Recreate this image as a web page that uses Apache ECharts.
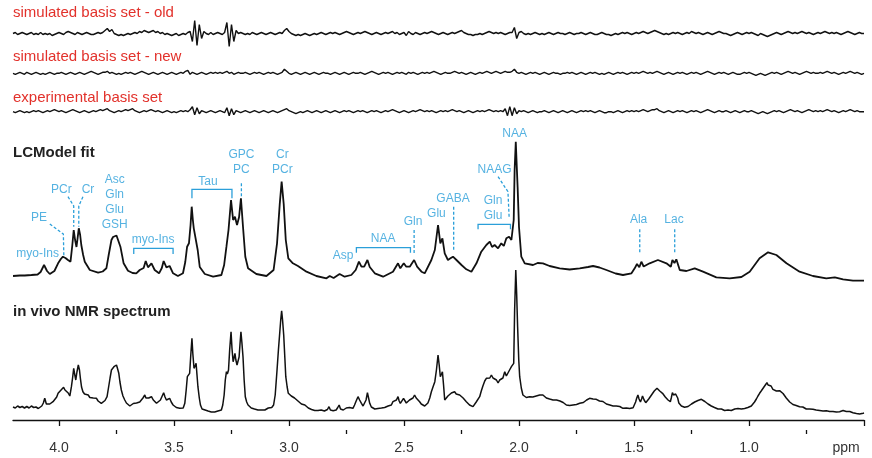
<!DOCTYPE html>
<html><head><meta charset="utf-8">
<script src="https://cdn.jsdelivr.net/npm/echarts@6/dist/echarts.min.js"></script>
<style>html,body{margin:0;padding:0;background:#fff}#c{width:872px;height:458px}</style>
</head><body><div id="c"></div><script>
// ---------- data ----------
const majorTicks = [0.5, 1.0, 1.5, 2.0, 2.5, 3.0, 3.5, 4.0];
const minorTicks = [0.75, 1.25, 1.75, 2.25, 2.75, 3.25, 3.75];
const tickLabels = ['ppm', '1.0', '1.5', '2.0', '2.5', '3.0', '3.5', '4.0'];
const residNames = ['simulated basis set - old', 'simulated basis set - new', 'experimental basis set'];
const spectrumNames = ['LCModel fit', 'in vivo NMR spectrum'];

// residual traces sampled every 0.01 ppm from 4.20 ppm down to 0.50 ppm
const residStart = 4.20, residStep = 0.01;
const residOld = [
 0,1,-1,0,1,0,-1,0,1,-1,  0,-1,1,-1,0,-1,0,-2,-1,0,  1,0,-1,1,2,1,0,-1,1,0,  -1,0,1,0,-1,-1,0,1,0,1,
 3,5,2,4,0,-1,-2,-1,-2,-1,  0,-1,0,1,0,2,1,3,2,1,  2,3,1,2,0,1,-1,0,-1,-2,  -1,0,-2,-1,0,-1,1,2,-8,13,
 -12,9,-5,2,0,-1,1,-1,0,1,  0,-1,1,11,-13,9,-8,3,0,1,  0,-1,0,-1,1,0,-1,0,1,0,  -1,0,1,0,-1,0,1,0,3,5,
 2,0,-1,-2,-1,-2,-1,0,-1,-2,  -1,0,-1,0,1,0,-1,0,1,0,  1,0,-1,0,1,2,1,0,-1,0,  1,0,1,2,1,0,-1,0,1,0,
 -1,0,1,0,1,2,0,1,-1,0,  1,-2,2,0,-1,1,0,-1,0,1,  0,1,2,1,0,-1,0,1,0,-1,  0,1,0,1,2,3,1,0,-1,-1,
 -2,-1,-1,0,-1,0,1,2,1,0,  1,0,1,0,-1,0,1,1,6,-5,  1,2,0,-1,0,-1,0,1,0,-1,  0,-1,0,1,0,-1,0,1,0,0,
 -1,0,1,0,-1,0,0,1,0,-1,  0,1,0,-1,-1,0,1,0,-1,-1,  -2,-1,0,-1,0,1,0,1,0,-1,  0,1,0,1,2,1,0,1,2,3,
 2,1,0,-1,0,-1,0,1,0,1,  0,-1,0,1,0,2,1,0,1,0,  -1,0,1,0,-1,0,1,2,1,0,  0,-1,-2,-1,0,1,0,-1,0,1,
 0,1,0,-1,-2,0,-1,-2,-3,-2,  -1,0,1,0,-1,0,1,2,1,0,  1,0,1,2,1,0,1,0,-1,0,  1,0,1,2,1,0,1,0,1,0,
 -1,0,1,2,1,0,-1,0,1,0,  0
];
const residNew = [
 0,-1,0,1,0,-1,1,0,-1,0,  1,0,-1,0,-1,0,1,0,-1,0,  0,1,0,-1,0,1,0,-1,0,1,  0,-1,0,1,2,1,0,-1,0,1,
 1,2,0,1,0,-1,0,-1,0,1,  0,1,0,-1,0,1,2,1,0,-1,  0,1,0,-1,0,1,0,-1,0,1,  0,-1,0,1,0,2,3,-1,1,0,
 -1,0,1,0,-1,0,1,0,1,0,  1,0,1,2,0,1,-1,0,1,0,  0,1,0,-1,0,1,0,1,0,-1,  0,1,0,1,0,-1,0,1,4,2,
 0,-1,0,1,0,-1,0,1,0,-1,  0,1,0,-1,0,1,0,0,-1,0,  1,0,-1,0,1,0,-1,0,1,0,  0,1,0,-1,0,1,2,1,0,-1,
 0,1,0,1,0,-1,0,1,0,1,  0,-1,1,0,1,0,-1,0,1,0,  1,0,1,2,1,0,-1,0,1,0,  0,1,2,1,0,1,0,-1,0,1,
 0,-1,0,1,0,1,2,1,0,1,  2,1,0,1,2,1,1,2,4,1,  0,1,0,-1,0,1,0,1,0,-1,  0,1,0,-1,0,1,0,0,-1,0,
 0,1,0,1,0,-1,0,1,0,-1,  0,1,0,1,0,-1,0,-1,0,1,  0,-1,0,1,0,1,0,-1,0,1,  0,1,0,1,2,1,0,1,0,1,
 2,1,0,-1,0,1,0,-1,0,1,  0,1,0,-1,0,1,0,1,0,-1,  0,1,2,1,0,-1,0,1,0,1,  0,-1,0,1,0,-1,-1,0,1,0,
 1,0,-1,-2,-1,0,-1,-2,-1,0,  1,0,1,0,-1,0,1,2,1,0,  1,0,-1,0,1,2,1,0,1,0,  0,1,0,1,2,1,0,1,0,-1,
 0,1,0,1,2,1,0,1,0,-1,  0
];
const residExp = [
 0,-1,0,1,0,-1,0,-1,0,1,  0,1,0,-1,0,1,0,1,2,1,  0,1,0,-1,0,1,2,1,0,-1,  0,1,0,-1,0,1,0,1,2,1,
 2,3,1,0,-1,0,1,0,1,2,  1,2,3,1,0,-1,0,1,0,1,  2,1,0,1,0,-1,0,1,0,-1,  0,-1,0,1,0,1,0,2,5,-3,
 4,-2,1,0,-1,0,1,0,-1,0,  1,0,-1,4,-4,3,-3,1,0,-1,  0,1,0,-1,0,1,0,-1,0,1,  0,-1,0,1,0,-1,0,1,2,3,
 1,0,-1,-2,-1,0,-1,0,1,0,  -1,0,1,0,-1,0,1,0,-1,0,  1,0,-1,0,1,0,1,0,-1,0,  1,0,1,0,-1,0,1,0,1,0,
 -1,0,1,0,1,2,1,0,-1,0,  1,0,-1,0,1,0,1,2,1,0,  1,0,1,0,-1,0,1,0,1,0,  1,2,1,0,1,0,-1,0,1,0,
 -1,0,1,0,1,0,1,2,1,0,  1,0,1,0,3,-4,5,-4,4,-2,  1,0,1,0,-1,0,1,0,-1,0,  0,1,0,-1,0,1,0,-1,0,1,
 0,-1,0,1,0,-1,0,1,0,1,  0,1,0,-1,0,1,0,-1,-1,0,  0,-1,0,1,0,-1,0,1,0,1,  0,1,0,1,2,1,0,1,2,2,
 3,1,0,-1,0,1,0,-1,0,1,  0,1,0,-1,0,1,0,1,0,-1,  0,1,2,1,0,-1,0,1,0,0,  1,0,-1,0,1,0,-1,0,1,0,
 0,1,0,-1,-2,-1,0,-1,-2,-1,  0,1,0,1,0,-1,0,1,2,1,  0,1,0,-1,0,1,2,1,0,1,  0,1,0,1,2,1,0,1,0,-1,
 0,1,0,1,2,1,0,1,0,0,  0
];

// LCModel fit: [ppm, intensity]
const fitSpectrum = [
 [4.20,14],[4.17,14.5],[4.149,14.5],[4.12,15],[4.093,15.5],[4.08,18],[4.065,25],[4.052,19],[4.04,16],[4.02,19],
 [4.004,26.7],[3.992,31],[3.983,33.3],[3.972,32],[3.961,30],[3.950,28.3],[3.942,45],[3.936,60],[3.930,50],[3.924,43],
 [3.919,52],[3.914,61.7],[3.908,55],[3.903,45],[3.895,35],[3.888,28.3],[3.866,20],[3.83,17.3],[3.81,18.5],[3.794,21.7],
 [3.784,35],[3.772,50],[3.765,53],[3.758,55],[3.750,54.5],[3.743,53.3],[3.733,43.3],[3.719,26.7],[3.700,19.3],[3.680,17],
 [3.664,16.7],[3.649,20],[3.632,22],[3.623,29],[3.613,22.7],[3.598,26.7],[3.584,20],[3.565,16.7],[3.553,22],[3.545,29],
 [3.533,22.7],[3.519,24],[3.504,16.7],[3.483,14],[3.461,16.7],[3.451,28],[3.443,43.3],[3.435,46.7],[3.428,65],[3.423,83.3],
 [3.418,70],[3.414,61.7],[3.406,60],[3.397,40],[3.388,23],[3.366,16],[3.330,13.3],[3.294,15],[3.282,25],[3.272,43.3],
 [3.263,60],[3.252,90],[3.243,70],[3.235,73.3],[3.226,65],[3.217,73],[3.209,91.7],[3.200,63.3],[3.190,33.3],[3.178,21.7],
 [3.142,16],[3.098,14],[3.067,20],[3.052,46.7],[3.040,86.7],[3.032,108.3],[3.023,86],[3.014,50],[3.003,31.7],[2.983,26.7],
 [2.961,24],[2.924,18.3],[2.881,14],[2.837,11.7],[2.823,14],[2.806,12],[2.780,16],[2.758,13.3],[2.729,15],[2.710,20],
 [2.696,28.3],[2.685,23.3],[2.673,23.3],[2.659,30],[2.649,23],[2.627,16.7],[2.591,13.3],[2.548,18.3],[2.526,26.7],[2.516,21.7],
 [2.501,26.7],[2.490,23.3],[2.475,23.3],[2.456,30],[2.443,23.3],[2.424,18.3],[2.410,16.7],[2.381,30],[2.366,40],[2.352,65],
 [2.342,46.7],[2.333,51.7],[2.323,36.7],[2.309,30],[2.298,31.7],[2.287,33.3],[2.272,30],[2.250,25],[2.229,20.7],[2.207,18.3],
 [2.185,26.7],[2.164,38.3],[2.142,45],[2.127,48.3],[2.117,43],[2.106,45],[2.091,41.7],[2.077,46.7],[2.066,44],[2.055,51.7],
 [2.043,53.3],[2.033,50],[2.023,70],[2.019,120],[2.014,148.3],[2.010,125],[2.006,103],[2.000,63],[1.990,33.3],[1.975,26.7],
 [1.939,25],[1.919,27],[1.896,26.7],[1.867,24],[1.823,21.7],[1.780,20.5],[1.736,21.7],[1.700,23],[1.678,24],[1.650,22.5],
 [1.620,20],[1.580,16.5],[1.548,15],[1.511,16.7],[1.497,21.7],[1.487,26],[1.477,22.7],[1.468,28.3],[1.458,23.5],[1.432,26.7],
 [1.396,30],[1.359,26.7],[1.340,23.3],[1.333,30],[1.324,27],[1.316,30.7],[1.301,20],[1.272,19],[1.236,21.7],[1.200,18.3],
 [1.142,12.7],[1.084,11.7],[1.033,13],[0.997,18.3],[0.954,31.7],[0.917,37.7],[0.881,35],[0.837,26.7],[0.780,18.3],[0.722,14],
 [0.664,11.7],[0.627,12.7],[0.591,10.7],[0.548,9.3],[0.50,9.3]
];

// in vivo NMR spectrum: [ppm, intensity]
const vivoSpectrum = [
 [4.20,13],[4.19,12],[4.18,14],[4.17,12.5],[4.16,13.5],[4.15,12],[4.14,13.5],[4.13,12],[4.12,14],[4.11,12.5],
 [4.10,13],[4.09,11.5],[4.084,12],[4.075,14],[4.068,17],[4.062,21.7],[4.055,16],[4.048,14],[4.04,16],[4.033,15.5],
 [4.026,18.3],[4.018,20],[4.01,23],[4.004,26.7],[3.995,29],[3.988,31],[3.98,32.7],[3.974,30],[3.968,30.5],[3.96,27],
 [3.953,24],[3.946,33.3],[3.941,42],[3.936,51.7],[3.932,46],[3.927,40],[3.922,48],[3.916,55],[3.911,50],[3.907,41.7],
 [3.902,33],[3.896,28.3],[3.889,26],[3.881,24],[3.873,25],[3.866,22.5],[3.859,23],[3.851,22],[3.844,23],[3.837,21.7],
 [3.83,19],[3.823,18],[3.816,16.7],[3.808,18],[3.8,19.5],[3.791,23.3],[3.785,32],[3.778,42],[3.772,50],[3.766,51],
 [3.761,53.3],[3.755,52],[3.75,55],[3.745,51],[3.74,46.7],[3.735,38],[3.729,30],[3.722,24],[3.714,20],[3.707,17],
 [3.7,16],[3.692,14],[3.685,15],[3.677,16.5],[3.67,15],[3.663,17],[3.656,16.7],[3.649,18],[3.642,20],[3.635,22],
 [3.627,25],[3.622,22],[3.617,20],[3.61,22],[3.604,21],[3.598,23.3],[3.59,20],[3.583,18],[3.576,16.7],[3.568,17.5],
 [3.559,20],[3.552,22],[3.545,27.3],[3.539,23],[3.533,20],[3.526,22],[3.519,21.7],[3.512,18],[3.504,15],[3.496,13],
 [3.49,12.5],[3.483,12],[3.475,11.7],[3.468,13],[3.46,12],[3.453,16.7],[3.447,30],[3.442,43.3],[3.437,44],[3.432,46.7],
 [3.427,65],[3.422,81.7],[3.418,66],[3.413,51.7],[3.408,54],[3.404,56.7],[3.4,45],[3.396,33.3],[3.39,22],[3.385,15],
 [3.378,11],[3.37,9.5],[3.365,10],[3.359,8.3],[3.352,9],[3.345,7.5],[3.338,8],[3.33,6.7],[3.323,8],[3.316,7],
 [3.309,9],[3.302,8.5],[3.294,10],[3.288,15],[3.282,25],[3.277,40],[3.272,48.3],[3.268,46],[3.263,50],[3.258,70],
 [3.252,88.3],[3.248,72],[3.243,58.3],[3.239,62],[3.235,66.7],[3.231,60],[3.226,55],[3.222,57],[3.217,63],[3.213,76],
 [3.209,88.3],[3.205,78],[3.2,63.3],[3.195,40],[3.19,23.3],[3.184,18],[3.178,15],[3.171,13],[3.164,12],[3.157,13],
 [3.15,11],[3.142,11.7],[3.135,10],[3.127,12],[3.12,10],[3.113,11.5],[3.105,10],[3.098,10.7],[3.09,12],[3.082,11],
 [3.075,12.5],[3.067,15],[3.06,25],[3.052,50],[3.046,70],[3.04,88],[3.036,100],[3.032,109.3],[3.028,100],[3.023,85],
 [3.018,62],[3.014,43.3],[3.008,33],[3.003,26.7],[2.996,25],[2.99,24],[2.983,23.3],[2.976,22],[2.968,20],[2.961,19],
 [2.953,17],[2.946,16],[2.938,14.5],[2.931,15],[2.924,14],[2.916,12],[2.909,12.5],[2.902,10.5],[2.895,11],[2.888,9.5],
 [2.881,8.3],[2.874,9.5],[2.867,8.5],[2.86,10],[2.853,10],[2.846,9],[2.839,11],[2.833,10.5],[2.826,13.3],[2.82,10],
 [2.814,11],[2.808,9.3],[2.801,11],[2.795,10],[2.788,12.5],[2.782,15],[2.776,11],[2.77,11.5],[2.764,10],[2.758,10],
 [2.751,12],[2.744,11],[2.737,12.5],[2.73,11],[2.722,11.7],[2.715,15],[2.708,19],[2.7,23.3],[2.693,20],[2.685,16.7],
 [2.678,14],[2.671,13.3],[2.665,20],[2.659,27.3],[2.654,22],[2.649,16.7],[2.642,13],[2.635,12],[2.627,11],[2.62,10.7],
 [2.613,11.5],[2.606,10],[2.598,12],[2.591,11],[2.584,12.5],[2.577,13.3],[2.569,14],[2.562,15.5],[2.555,15],[2.548,18.3],
 [2.54,17],[2.533,20],[2.526,23.3],[2.521,19],[2.516,16.7],[2.508,18],[2.502,21.7],[2.497,21.7],[2.49,17],[2.483,18.3],
 [2.476,20],[2.469,19],[2.461,22],[2.454,25],[2.447,22],[2.44,20],[2.432,18.3],[2.425,16],[2.418,15],[2.41,14],
 [2.403,13.3],[2.396,17],[2.388,22],[2.381,28.3],[2.374,33],[2.366,38.3],[2.359,50],[2.352,65],[2.347,55],[2.342,43.3],
 [2.337,46],[2.333,48.3],[2.328,35],[2.323,20],[2.316,22],[2.309,24],[2.301,25],[2.294,27],[2.287,26],[2.28,28.3],
 [2.273,26],[2.265,27],[2.258,25],[2.25,23],[2.243,22],[2.236,20],[2.229,18.3],[2.222,17],[2.215,15],[2.207,14.5],
 [2.2,13.3],[2.193,15],[2.186,18],[2.178,20],[2.171,23.3],[2.164,29],[2.157,34],[2.149,39],[2.142,41.7],[2.135,43],
 [2.127,42],[2.12,45],[2.113,42],[2.105,40.5],[2.098,40],[2.091,37],[2.084,40],[2.077,38],[2.07,42],[2.062,48.3],
 [2.055,44],[2.048,45],[2.041,50],[2.033,53.3],[2.028,52],[2.023,56.7],[2.019,110],[2.014,150],[2.01,125],[2.006,93.3],
 [2.001,60],[1.997,43.3],[1.99,32],[1.983,25],[1.976,24],[1.968,22.5],[1.961,24],[1.954,23.3],[1.947,22],[1.94,23],
 [1.932,22],[1.925,24],[1.918,23],[1.91,25],[1.903,24],[1.896,25],[1.889,23],[1.881,22],[1.874,23.5],[1.867,21],
 [1.86,22],[1.852,20],[1.845,21],[1.837,20],[1.83,18.5],[1.822,19],[1.815,17],[1.808,17.5],[1.801,16],[1.794,15],
 [1.787,16],[1.78,14.5],[1.772,16],[1.765,15],[1.758,16.5],[1.75,15.5],[1.743,17],[1.736,16.7],[1.728,18],[1.72,17.5],
 [1.713,19],[1.706,20],[1.7,21],[1.693,21.7],[1.686,22.5],[1.678,21],[1.671,22],[1.664,20.7],[1.657,20],[1.65,19],
 [1.642,18],[1.635,18.5],[1.627,17],[1.62,16],[1.612,17],[1.605,15],[1.598,15.5],[1.591,14],[1.584,14.5],[1.577,14],
 [1.57,13],[1.562,13.5],[1.555,12],[1.548,11.7],[1.54,12.5],[1.533,12],[1.526,13],[1.519,11.5],[1.511,12],[1.504,12.3],
 [1.499,14],[1.493,18],[1.488,22],[1.483,25],[1.478,21],[1.472,18],[1.467,21],[1.463,24],[1.456,20],[1.449,17.3],
 [1.442,19],[1.436,21],[1.43,23],[1.424,25],[1.418,27],[1.412,29],[1.406,30],[1.4,31.7],[1.394,30],[1.388,29],
 [1.382,27.5],[1.376,26.7],[1.37,25],[1.364,23],[1.358,21.5],[1.352,20],[1.347,19],[1.342,18.3],[1.338,22],[1.333,27.3],
 [1.328,25],[1.323,24],[1.319,26],[1.316,27.3],[1.31,22],[1.305,17],[1.301,15],[1.294,14],[1.287,13],[1.28,12.7],
 [1.272,14],[1.265,13.5],[1.258,15],[1.25,16],[1.243,17],[1.236,18],[1.229,19],[1.222,19.5],[1.214,20],[1.207,20.7],
 [1.2,19.5],[1.192,18.5],[1.185,17.3],[1.178,16],[1.171,15.5],[1.164,14],[1.157,13.3],[1.15,12.5],[1.142,11.5],[1.135,11],
 [1.128,10.5],[1.12,11],[1.113,10],[1.106,9.5],[1.099,11],[1.091,10],[1.084,10.5],[1.077,9.5],[1.07,10],[1.062,11],
 [1.055,10],[1.048,11.5],[1.04,10],[1.033,11],[1.026,10.7],[1.019,11.5],[1.012,12],[1.005,12.5],[0.997,13],[0.99,14],
 [0.983,16],[0.976,18],[0.968,21],[0.961,24],[0.954,26.7],[0.947,29],[0.94,31],[0.932,34],[0.926,36],[0.922,37.3],
 [0.917,35],[0.911,33],[0.904,34],[0.896,30.7],[0.889,31],[0.881,29],[0.874,30],[0.867,29.3],[0.86,28],[0.852,26.5],
 [0.845,25],[0.838,22],[0.831,20],[0.823,18],[0.816,16],[0.809,15.5],[0.802,14],[0.795,14.5],[0.787,13],[0.78,13.3],
 [0.773,12],[0.766,13],[0.758,12],[0.751,11],[0.744,12.5],[0.737,11],[0.729,11.5],[0.722,10.7],[0.715,11.5],[0.708,10],
 [0.7,11],[0.693,9.5],[0.686,10.5],[0.678,9],[0.671,10],[0.664,9.3],[0.657,9.5],[0.649,8.5],[0.642,10],[0.635,8.5],
 [0.628,9],[0.62,8],[0.613,9.5],[0.606,8.3],[0.599,8],[0.591,9.5],[0.584,7.5],[0.577,8.5],[0.57,7],[0.562,8.5],
 [0.555,7],[0.548,7.3],[0.541,8],[0.533,6.5],[0.526,7.5],[0.519,6],[0.512,7.5],[0.504,6.7],[0.50,7]
];

// metabolite annotations on the fit: [ppm, height, text]
const annotations = [
 [4.093, 36.7, 'myo-Ins'], [4.087, 72.7, 'PE'], [3.990, 100.7, 'PCr'], [3.874, 100.7, 'Cr'],
 [3.758, 87.8, 'Asc\nGln\nGlu\nGSH'], [3.591, 50, 'myo-Ins'], [3.352, 108.3, 'Tau'],
 [3.207, 127.5, 'GPC\nPC'], [3.029, 127.5, 'Cr\nPCr'], [2.765, 34, 'Asp'], [2.591, 51, 'NAA'],
 [2.461, 68.3, 'Gln'], [2.359, 76.7, 'Glu'], [2.287, 91.7, 'GABA'], [2.113, 81.7, 'Gln\nGlu'],
 [2.106, 120, 'NAAG'], [2.019, 156, 'NAA'], [1.480, 70, 'Ala'], [1.326, 70, 'Lac']
];
// dashed leader lines: polylines of [ppm, height]
const leaders = [
 [[4.040,66],[3.981,56],[3.979,34]],
 [[3.961,93.3],[3.936,84],[3.936,63.3]],
 [[3.896,93.3],[3.914,84],[3.914,63.3]],
 [[3.207,106.7],[3.207,93.3]],
 [[2.456,60],[2.456,35]],
 [[2.284,83.3],[2.284,39.3]],
 [[2.091,113.3],[2.048,98.3],[2.043,73.3]],
 [[1.475,60.7],[1.475,36.7]],
 [[1.323,60.7],[1.323,36.7]]
];
// brackets: [ppmLeft, ppmRight, topHeight, endHeight]
const brackets = [
 [3.675, 3.504, 41.7, 36],
 [3.422, 3.248, 100.7, 91.7],
 [2.707, 2.472, 42.3, 37.3],
 [2.178, 2.037, 65.7, 60.7]
];

// ---------- chart ----------
const FONT = '"Liberation Sans", Arial, Helvetica, sans-serif';
const BLUE = '#2b9fd9', RED = '#e2312b', INK = '#111111';
const PPM_MIN = 0.5, PPM_MAX = 4.2;

function residPairs(vals) {
  return vals.map((v, i) => [+(residStart - i * residStep).toFixed(2), v]);
}
function labelFor(v) {
  const k = majorTicks.findIndex(t => Math.abs(t - v) < 1e-6);
  if (k < 0) return '';
  return k === 0 ? '{p|' + tickLabels[k] + '}' : tickLabels[k];
}

const grids = [
  {left: 13, right: 8, top: 13.5, height: 40},
  {left: 13, right: 8, top: 53.3, height: 40},
  {left: 13, right: 8, top: 91.7, height: 40},
  {left: 13, right: 8, top: 130, height: 160},
  {left: 13, right: 8, top: 270, height: 160}
];
const yRanges = [[-20, 20], [-20, 20], [-20, 20], [0, 160], [-10, 150]];

const xAxes = grids.map((g, i) => ({
  type: 'value', gridIndex: i, min: PPM_MIN, max: PPM_MAX, inverse: true, show: false
}));
xAxes[4] = {
  type: 'value', gridIndex: 4, position: 'bottom', min: PPM_MIN, max: PPM_MAX, inverse: true, show: true, interval: 0.5,
  axisLine: {show: true, lineStyle: {color: INK, width: 1.3}},
  axisTick: {show: true, length: 6, lineStyle: {color: INK, width: 1.3}, customValues: majorTicks},
  axisLabel: {show: true, customValues: majorTicks, formatter: labelFor, color: '#333', fontSize: 14,
    fontFamily: FONT, margin: 11, rich: {p: {fontSize: 14, color: '#333', fontFamily: FONT, padding: [0, 36, 0, 0]}}},
  splitLine: {show: false}
};
xAxes.push({
  type: 'value', gridIndex: 4, position: 'bottom', offset: 0, min: PPM_MIN, max: PPM_MAX, inverse: true, show: true, interval: 0.5,
  axisLine: {show: false},
  axisTick: {show: true, length: 4, lineStyle: {color: INK, width: 1.3}, customValues: minorTicks},
  axisLabel: {show: false}, splitLine: {show: false}
});
const yAxes = yRanges.map((r, i) => ({type: 'value', gridIndex: i, min: r[0], max: r[1], show: false}));

function trace(i, data, w) {
  return {type: 'line', xAxisIndex: i, yAxisIndex: i, data, symbol: 'none', showSymbol: false,
    lineStyle: {color: INK, width: w}, clip: false, silent: true, animation: false};
}

const titleTops = [4, 48, 89, 144, 303];
const titles = residNames.map((t, i) => ({text: t, left: 13, top: titleTops[i], padding: 0,
  textStyle: {color: RED, fontSize: 15, fontWeight: 'normal', fontFamily: FONT, lineHeight: 18}}))
  .concat(spectrumNames.map((t, i) => ({text: t, left: 13, top: titleTops[3 + i], padding: 0,
  textStyle: {color: '#222', fontSize: 15, fontWeight: 'bold', fontFamily: FONT, lineHeight: 18}})));

const option = {
  backgroundColor: '#ffffff',
  animation: false,
  title: titles,
  grid: grids,
  xAxis: xAxes,
  yAxis: yAxes,
  series: [
    trace(0, residPairs(residOld), 1.4),
    trace(1, residPairs(residNew), 1.4),
    trace(2, residPairs(residExp), 1.4),
    trace(3, fitSpectrum, 1.8),
    trace(4, vivoSpectrum, 1.5),
    {type: 'lines', coordinateSystem: 'cartesian2d', xAxisIndex: 3, yAxisIndex: 3, polyline: true,
     data: leaders.map(c => ({coords: c})),
     lineStyle: {color: BLUE, width: 1.3, type: [3, 2], opacity: 1}, silent: true, animation: false},
    {type: 'lines', coordinateSystem: 'cartesian2d', xAxisIndex: 3, yAxisIndex: 3, polyline: true,
     data: brackets.map(b => ({coords: [[b[0], b[3]], [b[0], b[2]], [b[1], b[2]], [b[1], b[3]]]})),
     lineStyle: {color: BLUE, width: 1.3, type: 'solid', opacity: 1}, silent: true, animation: false},
    {type: 'scatter', xAxisIndex: 3, yAxisIndex: 3, symbolSize: 1,
     itemStyle: {color: 'rgba(0,0,0,0)'},
     data: annotations.map(a => ({value: [a[0], a[1]], name: a[2]})),
     label: {show: true, position: 'inside', formatter: p => p.name, color: BLUE, fontSize: 12,
       lineHeight: 14.7, fontFamily: FONT, align: 'center', verticalAlign: 'middle'},
     silent: true, animation: false}
  ]
};
const chart = echarts.init(document.getElementById('c'), null, {renderer: 'canvas'});
chart.setOption(option);
</script></body></html>
